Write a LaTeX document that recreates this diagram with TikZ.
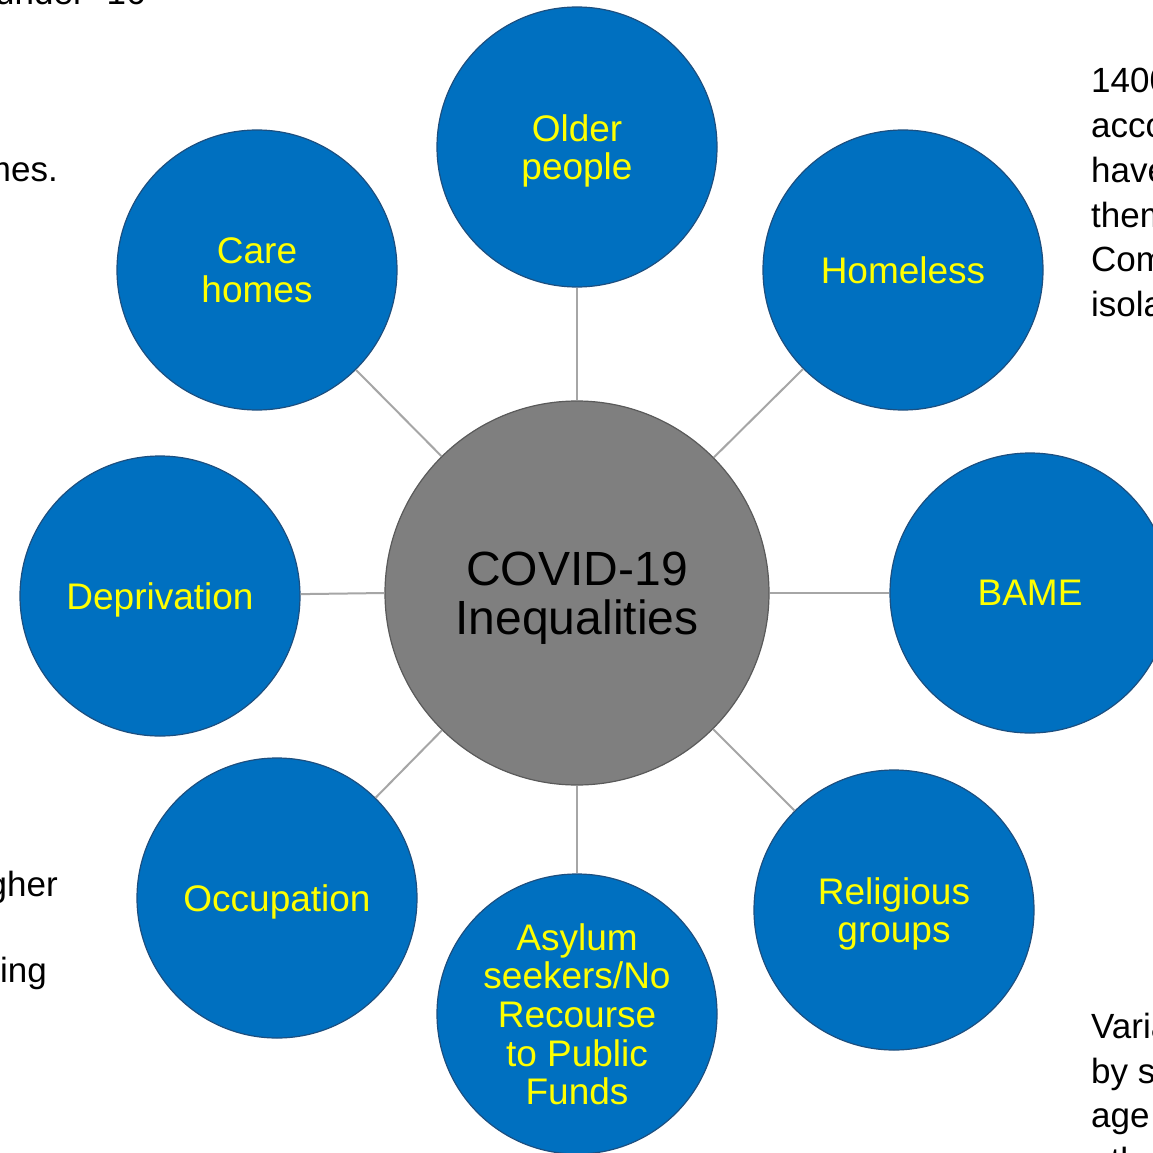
\documentclass[tikz,border=0pt]{standalone}
\usepackage{fontspec}
\setmainfont{Liberation Sans}
\definecolor{bblue}{HTML}{0070C0}
\definecolor{bedge}{HTML}{1C4F80}
\definecolor{cgray}{HTML}{7F7F7F}
\definecolor{cedge}{HTML}{5A5A5A}
\definecolor{lgray}{HTML}{A6A6A6}
\definecolor{ytext}{HTML}{FFFF00}
\begin{document}
\begin{tikzpicture}[x=1pt,y=-1pt,
  outer/.style={circle,fill=bblue,draw=bedge,line width=1.2pt,minimum size=280pt,inner sep=0pt,
    text=ytext,align=center,text depth=0pt,font=\fontsize{37}{38.6}\selectfont},
  hub/.style={circle,fill=cgray,draw=cedge,line width=1.2pt,minimum size=384pt,inner sep=0pt,
    text=black,align=center,text depth=0pt,font=\fontsize{48}{49.5}\selectfont},
  link/.style={draw=lgray,line width=2pt},
  side/.style={inner sep=0pt,text=black,font=\fontsize{35}{38}\selectfont}]
\useasboundingbox (0,0) rectangle (1153,1153);
\clip (0,0) rectangle (1153,1153);
\fill[white] (0,0) rectangle (1153,1153);

% side text fragments (cut by the page edge)
\node[side,anchor=base west] (t1) at (-5,5) {under\hspace{22pt}16};
\node[side,anchor=base east] (t2) at (58,181) {homes.};
\node[side,anchor=base east] (t3) at (58,896) {higher};
\node[side,anchor=base east] (t4) at (47,982) {living};
\node[side,anchor=base west] (r1) at (1091,93) {1400};
\node[side,anchor=base west] (r2) at (1091,138) {accounts};
\node[side,anchor=base west] (r3) at (1091,182) {have};
\node[side,anchor=base west] (r4) at (1091,227) {them};
\node[side,anchor=base west] (r5) at (1091,271) {Community};
\node[side,anchor=base west] (r6) at (1091,316) {isolation};
\node[side,anchor=base west] (v1) at (1091,1038) {Variation};
\node[side,anchor=base west] (v2) at (1091,1083) {by sex};
\node[side,anchor=base west] (v3) at (1091,1127) {age};
\node[side,anchor=base west] (v4) at (1091,1172) {ethnicity};

% circles
\node[hub] (c) at (577,593) {COVID-19\\Inequalities};
\node[outer] (old) at (577,147) {Older\\people};
\node[outer] (care) at (257,270) {Care\\homes};
\node[outer] (home) at (903,270) {Homeless};
\node[outer] (dep) at (160,596) {Deprivation};
\node[outer] (bame) at (1030,593) {BAME};
\node[outer] (occ) at (277,898) {Occupation};
\node[outer] (asy) at (577,1014) {Asylum\\seekers/No\\Recourse\\to Public\\Funds};
\node[outer] (rel) at (894,910) {Religious\\groups};

% connectors
\draw[link] (c) -- (old);
\draw[link] (c) -- (care);
\draw[link] (c) -- (home);
\draw[link] (c.180) -- (dep);
\draw[link] (c) -- (bame);
\draw[link] (c) -- (occ);
\draw[link] (c) -- (asy);
\draw[link] (c) -- (rel);
\end{tikzpicture}
\end{document}
